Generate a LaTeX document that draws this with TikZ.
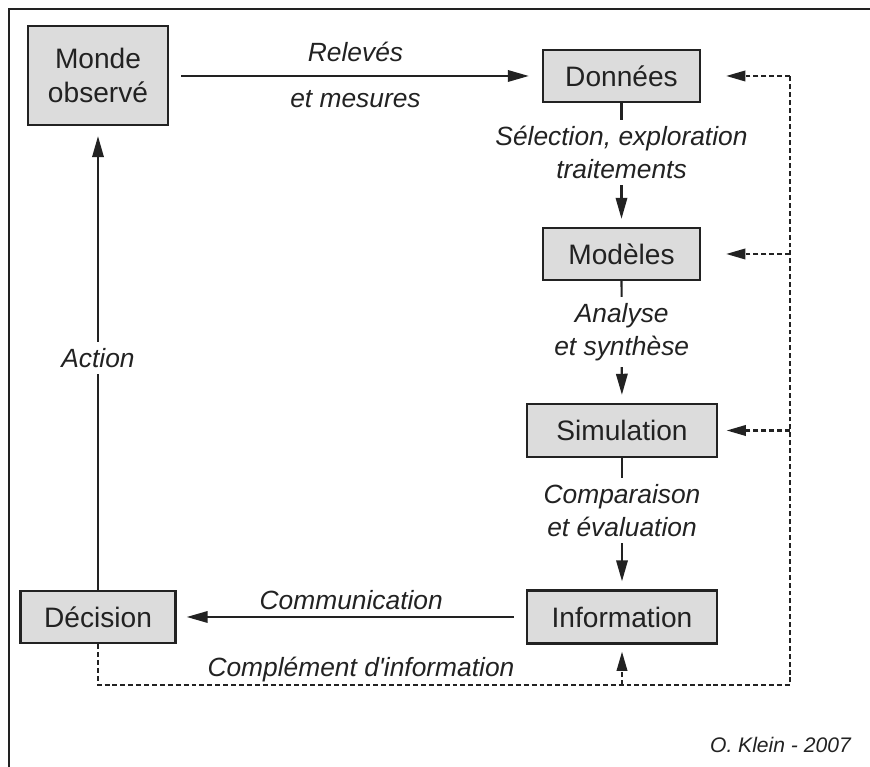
\documentclass[tikz,border=0pt]{standalone}
\usepackage{fontspec}
\setmainfont{Liberation Sans}
\usepackage{tikz}
\usetikzlibrary{positioning,arrows.meta,calc}
\definecolor{boxFill}{HTML}{DCDCDC}
\definecolor{inkGray}{HTML}{222222}
\tikzset{
  procbox/.style={draw=inkGray, fill=boxFill, line width=1.3pt, text=inkGray,
                  font=\fontsize{16}{19}\selectfont, align=center, inner sep=2pt},
  steplabel/.style={font=\fontsize{15}{19}\selectfont\itshape, text=inkGray,
                    align=center},
  flowarrow/.style={-{Triangle[length=12pt,width=6.5pt]}, draw=inkGray, line width=1.25pt},
  fbline/.style={draw=inkGray, line width=1.2pt, dash pattern=on 2.8pt off 1.7pt},
  fbarrow/.style={fbline, -{Triangle[length=11pt,width=6pt]}},
}
\begin{document}
\begin{tikzpicture}
\useasboundingbox (0,0) rectangle (17.4,15.34);
%% Frame
\draw[inkGray, line width=0.9pt] (0.18,0) -- (0.18,15.16) -- (17.4,15.16);
%% Boxes
\node[procbox, minimum width=2.8cm, minimum height=1.98cm] (monde) at (1.96,13.83) {Monde\\observé};
\node[procbox, minimum width=3.14cm, minimum height=1.04cm] (donnees) at (12.43,13.82) {Données};
\node[procbox, minimum width=3.14cm, minimum height=1.04cm] (modeles) at (12.43,10.26) {Modèles};
\node[procbox, minimum width=3.8cm, minimum height=1.06cm] (simulation) at (12.44,6.73) {Simulation};
\node[procbox, minimum width=3.8cm, minimum height=1.06cm] (information) at (12.44,3.0) {Information};
\node[procbox, minimum width=3.1cm, minimum height=1.04cm] (decision) at (1.96,3.0) {Décision};
%% Feedback bus
\coordinate (fbtop) at (15.8,13.82);
\coordinate (fbbot) at (15.8,1.64);
%% Main cycle
\draw[flowarrow, shorten <=0.24cm, shorten >=0.26cm] (monde.east |- donnees) -- (donnees.west)
  node[steplabel, midway, above=4pt] {Relevés}
  node[steplabel, midway, below=4pt] {et mesures};
\draw[flowarrow, shorten >=0.16cm] (donnees) -- node[steplabel, fill=white, pos=0.4] {Sélection, exploration\\traitements} (modeles);
\draw[flowarrow, shorten >=0.16cm] (modeles) -- node[steplabel, fill=white, pos=0.42] {Analyse\\et synthèse} (simulation);
\draw[flowarrow, shorten >=0.16cm] (simulation) -- node[steplabel, fill=white, pos=0.4] {Comparaison\\et évaluation} (information);
\draw[flowarrow, shorten <=0.24cm, shorten >=0.2cm] (information) -- node[steplabel, above] {Communication} (decision);
\draw[flowarrow, shorten >=0.2cm] (decision) -- node[steplabel, fill=white] {Action} (monde);
%% Feedback (dashed)
\draw[fbline] (decision.south) -- (decision.south |- fbbot)
  -- node[steplabel, above=-2.5pt, pos=0.38] {Complément d\textquotesingle information} (fbbot) -- (fbtop);
\draw[fbarrow, shorten >=0.5cm] (fbtop) -- (donnees.east);
\draw[fbarrow, shorten >=0.5cm] (fbtop |- modeles) -- (modeles.east);
\draw[fbarrow, shorten >=0.17cm] (fbtop |- simulation) -- (simulation.east);
\draw[fbarrow, shorten >=0.14cm] (information |- fbbot) -- (information.south);
%% Credit
\node[anchor=east, font=\fontsize{12}{14}\selectfont\itshape, text=inkGray] (credit) at (17.14,0.44) {O. Klein - 2007};
\end{tikzpicture}
\end{document}
